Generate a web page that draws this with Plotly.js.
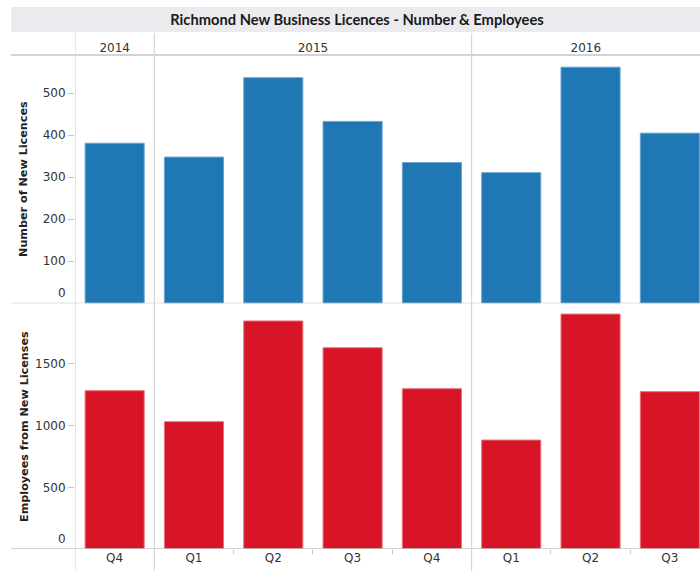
<!DOCTYPE html>
<html>
<head>
<meta charset="utf-8">
<script src="https://cdn.plot.ly/plotly-3.0.1.min.js"></script>
<style>html,body{margin:0;padding:0;background:#fff;}#chart{width:700px;height:571px;}</style>
</head>
<body>
<div id="chart"></div>
<script>
// ---- data ----
const quarters = ['Q4','Q1','Q2','Q3','Q4','Q1','Q2','Q3'];
const yearOf   = ['2014','2015','2015','2015','2015','2016','2016','2016'];
const licences = [381, 348, 537, 433, 335, 311, 562, 405];
const employees = [1283, 1032, 1848, 1631, 1299, 883, 1904, 1275];
const licTicks = [0, 100, 200, 300, 400, 500];
const empTicks = [0, 500, 1000, 1500];
const titleText = 'Richmond New Business Licences - Number & Employees';
const yTitleTop = 'Number of New Licences';
const yTitleBottom = 'Employees from New Licenses';

// ---- derived positions ----
const idx = quarters.map((q,i)=>i);
const xRange = [-0.5, 7.38];
const years = [];
const yearStart = {}, yearEnd = {};
yearOf.forEach((y,i)=>{ if(!(y in yearStart)){years.push(y); yearStart[y]=i;} yearEnd[y]=i; });
const yearCenters = years.map(y => (yearStart[y]-0.5 + Math.min(yearEnd[y]+0.5, xRange[1]))/2);
const dividers = [-0.5].concat(years.slice(1).map(y => yearStart[y]-0.5));
const boundaries = idx.slice(0,-1).map(i=>i+0.5);

const tickFont = {family:'DejaVu Sans', size:12, color:'#333'};
const gray = '#c4c4c4';
const divGray = '#d6d6d6';

const traces = [
  {type:'bar', x:idx, y:licences, xaxis:'x2', yaxis:'y', width:0.745,
   marker:{color:'#1f77b4', line:{color:'#6aa3d2', width:1}}, hoverinfo:'y'},
  {type:'bar', x:idx, y:employees, xaxis:'x', yaxis:'y2', width:0.745,
   marker:{color:'#d71526', line:{color:'#e8707a', width:1}}, hoverinfo:'y'},
  // invisible helpers so the zero-label overlay axes get drawn
  {type:'scatter', mode:'markers', x:[idx[0]], y:[licTicks[0]], xaxis:'x2', yaxis:'y3',
   marker:{opacity:0, size:1}, hoverinfo:'skip'},
  {type:'scatter', mode:'markers', x:[idx[0]], y:[empTicks[0]], xaxis:'x', yaxis:'y4',
   marker:{opacity:0, size:1}, hoverinfo:'skip'}
];

const shapes = [];
// title band
shapes.push({type:'rect', xref:'paper', yref:'paper', x0:-0.1024, x1:1, y0:1.0466, y1:1.0972,
  fillcolor:'#ebebef', line:{width:0}, layer:'below'});
// header line
shapes.push({type:'line', xref:'paper', yref:'paper', x0:-0.1024, x1:1, y0:1.0, y1:1.0,
  line:{color:gray, width:1.3}});
// baselines
shapes.push({type:'line', xref:'paper', yref:'y', x0:-0.1024, x1:1, y0:0, y1:0,
  line:{color:gray, width:1.3}, layer:'above'});
shapes.push({type:'line', xref:'paper', yref:'y2', x0:-0.1024, x1:1, y0:0, y1:0,
  line:{color:gray, width:1.3}, layer:'above'});
// year dividers
dividers.forEach(d => shapes.push({type:'line', xref:'x', yref:'paper', x0:d, x1:d, y0:-0.0445, y1:1.0445,
  line:{color:divGray, width:1.2}, layer:'above'}));

const topDomain = [0.4974, 1];
const botDomain = [0, 0.4953];
const topRange = [0, 591];
const botRange = [0, 1983];
const yTitleFont = {family:'DejaVu Sans', size:11.2, weight:700, color:'#222'};

const layout = {
  width:700, height:571,
  margin:{l:75, r:0, t:55, b:22},
  paper_bgcolor:'#fff', plot_bgcolor:'rgba(0,0,0,0)',
  showlegend:false, bargap:0,
  title:{text:titleText, x:357/700, xanchor:'center', xref:'container', y:1-20/571, yanchor:'middle', yref:'container',
         font:{family:'Lato', size:14.7, weight:700, color:'#1a1a1a'}},
  xaxis:{domain:[0,1], anchor:'y2', range:xRange, tickmode:'array', tickvals:idx, ticktext:quarters,
         ticks:'', showgrid:false, zeroline:false, showline:false, tickfont:tickFont,
         minor:{tickmode:'array', tickvals:boundaries, ticks:'outside', ticklen:4, tickcolor:gray, tickwidth:1, showgrid:false}},
  xaxis2:{domain:[0,1], anchor:'y', side:'top', range:xRange, tickmode:'array', tickvals:yearCenters, ticktext:years,
          ticks:'', showgrid:false, zeroline:false, showline:false, tickfont:tickFont},
  yaxis:{domain:topDomain, anchor:'x2', range:topRange, tickmode:'array', tickvals:licTicks.slice(1),
         ticks:'outside', ticklen:6, tickcolor:gray, showgrid:false, zeroline:false, showline:false, tickfont:tickFont,
         title:{text:yTitleTop, standoff:12, font:yTitleFont}},
  yaxis3:{anchor:'x2', overlaying:'y', side:'left', range:topRange, tickmode:'array', tickvals:licTicks.slice(0,1),
         ticks:'outside', ticklen:6, tickcolor:'rgba(0,0,0,0)', ticklabelshift:-10, showgrid:false, zeroline:false, showline:false, tickfont:tickFont},
  yaxis2:{domain:botDomain, anchor:'x', range:botRange, tickmode:'array', tickvals:empTicks.slice(1),
          ticks:'outside', ticklen:6, tickcolor:gray, showgrid:false, zeroline:false, showline:false, tickfont:tickFont,
          title:{text:yTitleBottom, standoff:4, font:yTitleFont}},
  yaxis4:{anchor:'x', overlaying:'y2', side:'left', range:botRange, tickmode:'array', tickvals:empTicks.slice(0,1),
          ticks:'outside', ticklen:6, tickcolor:'rgba(0,0,0,0)', ticklabelshift:-10, showgrid:false, zeroline:false, showline:false, tickfont:tickFont},
  shapes:shapes
};

Plotly.newPlot('chart', traces, layout, {displayModeBar:false, staticPlot:true});
</script>
</body>
</html>
